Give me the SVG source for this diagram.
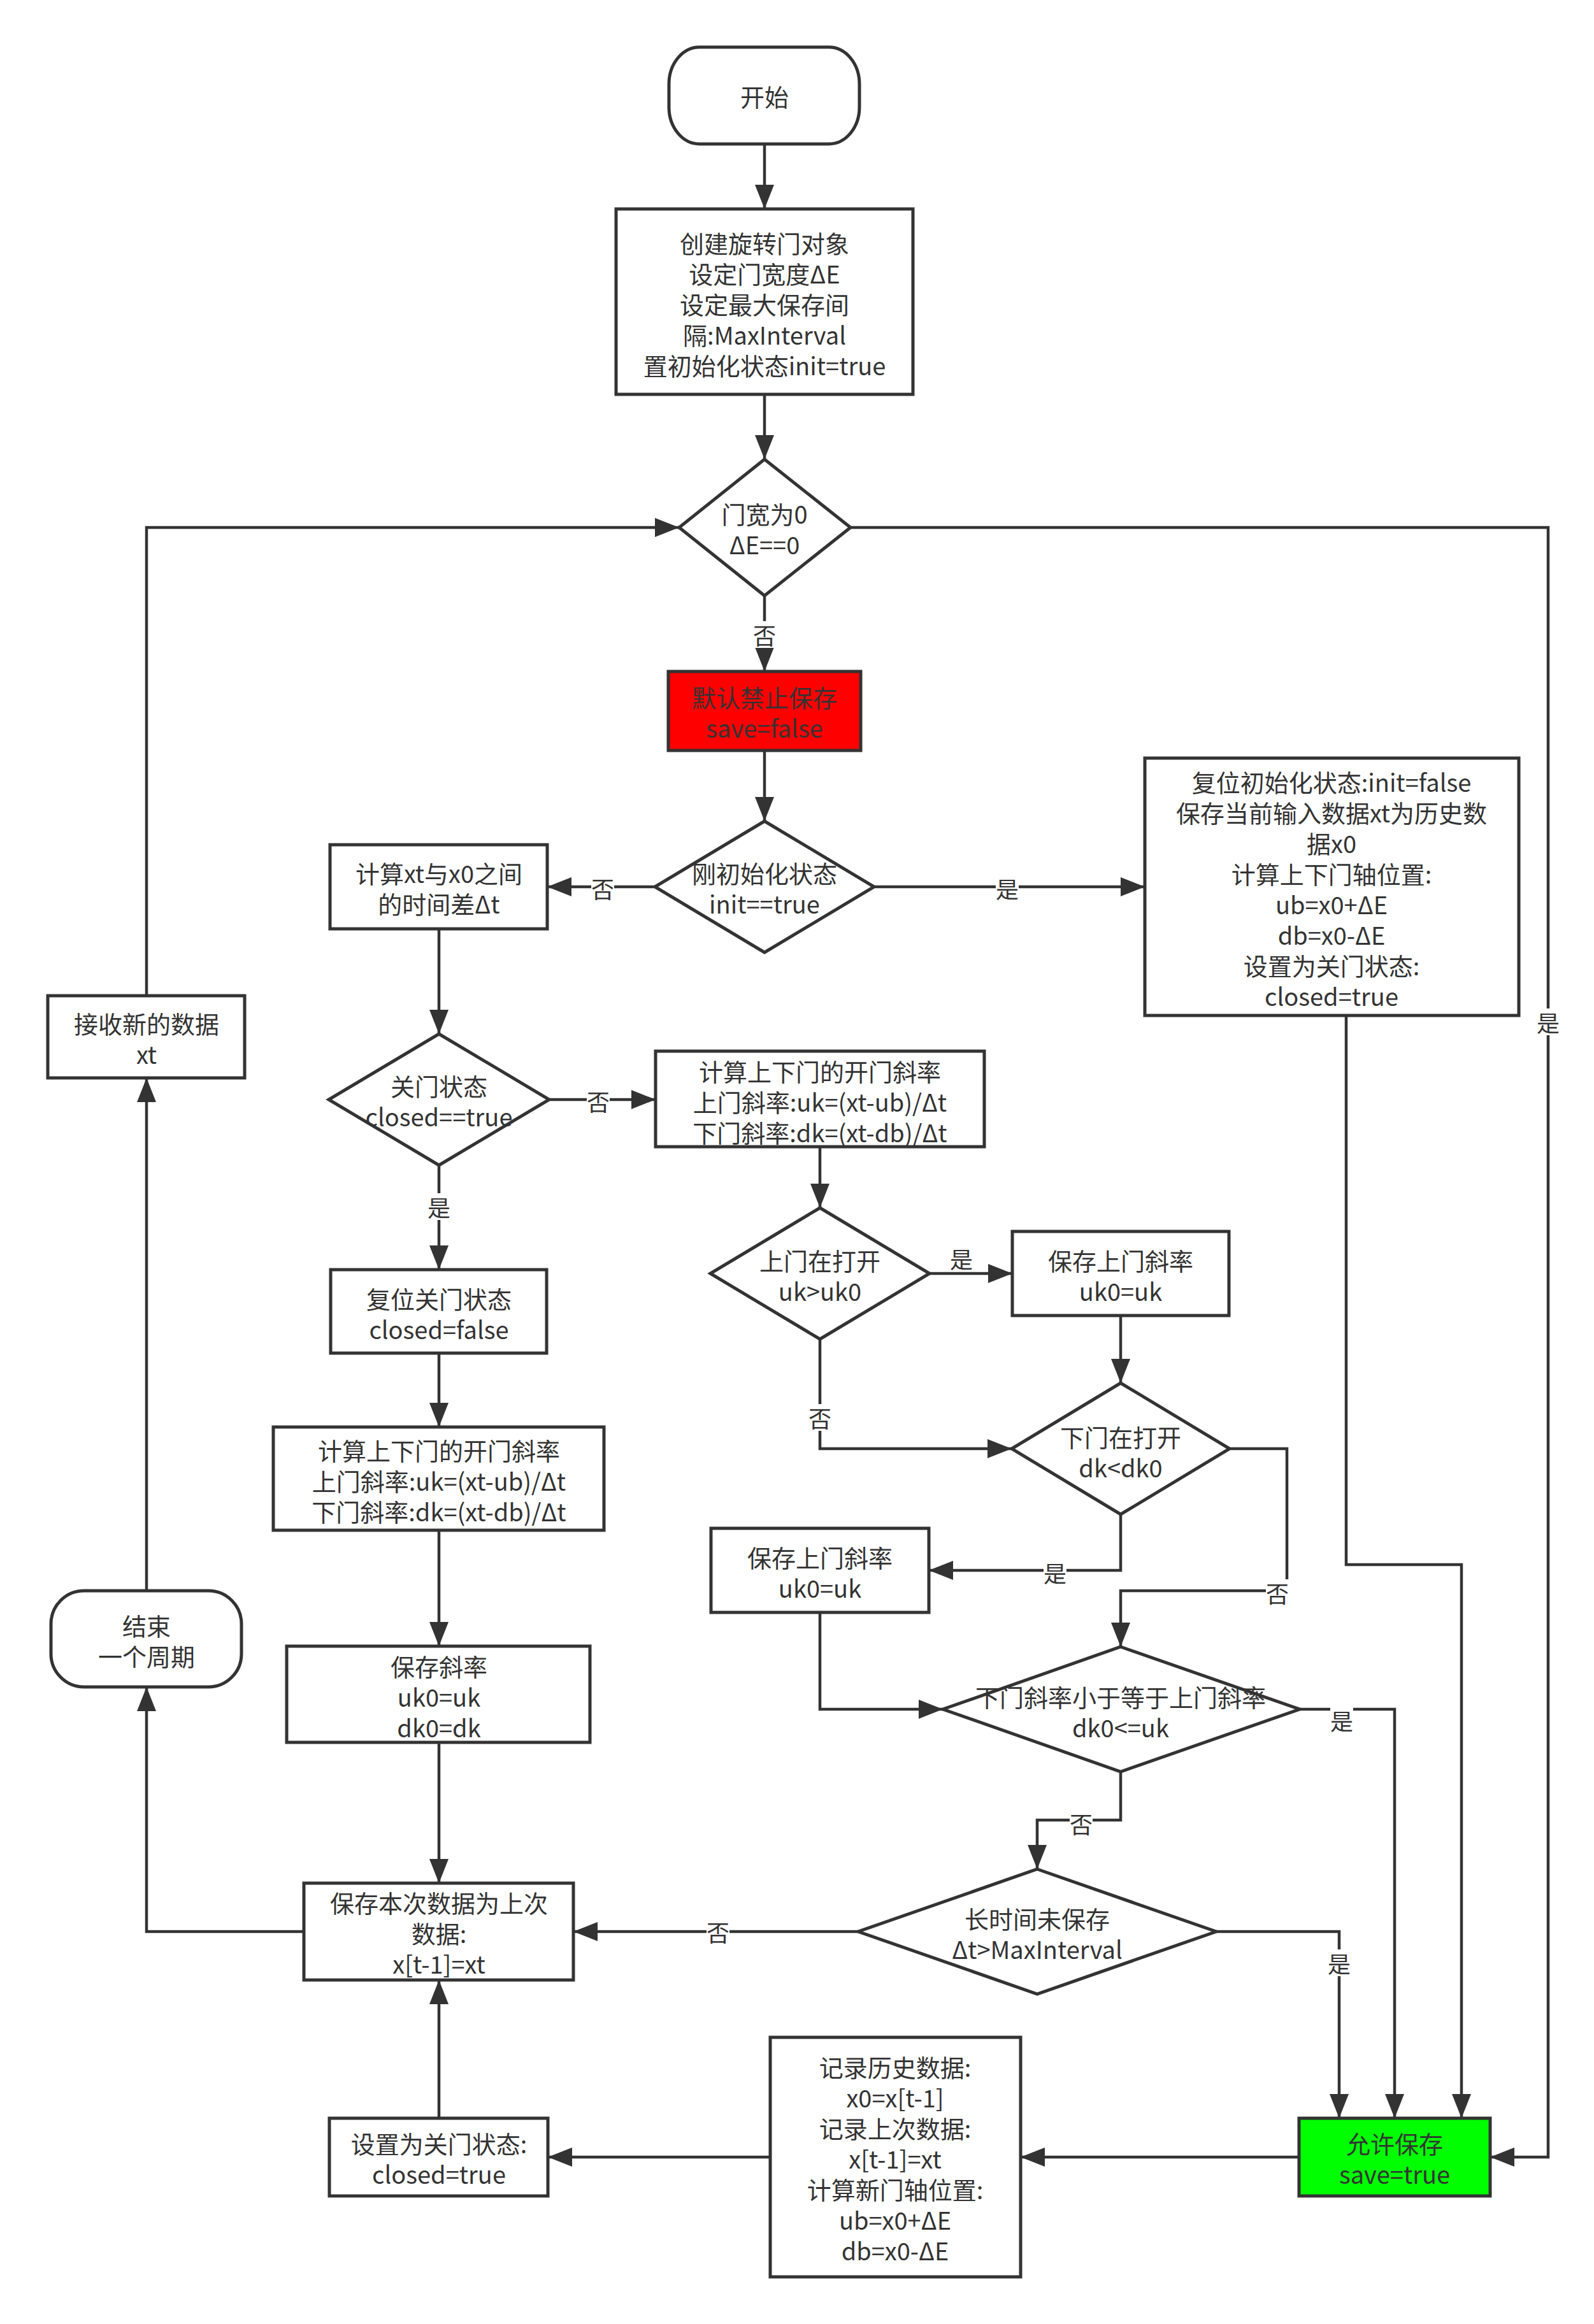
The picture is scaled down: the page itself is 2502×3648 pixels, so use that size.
<svg xmlns="http://www.w3.org/2000/svg" width="2502" height="3648" viewBox="0 0 2502 3648">
<defs>
<marker id="arr" markerUnits="userSpaceOnUse" markerWidth="38" markerHeight="30" refX="38" refY="15" orient="auto">
<path d="M0,0 L38,15 L0,30 z" fill="#333333"/>
</marker>
<style>
.n{fill:#ffffff;stroke:#333333;stroke-width:5}
.t{font-family:"Noto Sans CJK SC","Noto Sans",sans-serif;font-size:38px;fill:#333333;text-anchor:middle;dominant-baseline:central}
.c{fill:none;stroke:#333333;stroke-width:4.5}
.lb{fill:#ffffff;stroke:none}
.lt{font-family:"Noto Sans CJK SC","Noto Sans",sans-serif;font-size:36px;fill:#333333;text-anchor:middle;dominant-baseline:central}
</style>
</defs>
<rect width="2502" height="3648" fill="#ffffff"/>

<g id="connectors">
<path class="c" marker-end="url(#arr)" d="M1200,226 L1200,328"/>
<path class="c" marker-end="url(#arr)" d="M1200,619 L1200,721"/>
<path class="c" marker-end="url(#arr)" d="M1200,935 L1200,1054"/>
<path class="c" marker-end="url(#arr)" d="M1200,1178 L1200,1289"/>
<path class="c" marker-end="url(#arr)" d="M1028,1392 L859,1392"/>
<path class="c" marker-end="url(#arr)" d="M1372,1392 L1797,1392"/>
<path class="c" marker-end="url(#arr)" d="M1335,828 L2430,828 L2430,3386 L2339,3386"/>
<path class="c" marker-end="url(#arr)" d="M689,1458 L689,1623"/>
<path class="c" marker-end="url(#arr)" d="M862,1726 L1029,1726"/>
<path class="c" marker-end="url(#arr)" d="M689,1829 L689,1993"/>
<path class="c" marker-end="url(#arr)" d="M689,2124 L689,2240"/>
<path class="c" marker-end="url(#arr)" d="M689,2402 L689,2584"/>
<path class="c" marker-end="url(#arr)" d="M689,2735 L689,2956"/>
<path class="c" marker-end="url(#arr)" d="M689,3325 L689,3108"/>
<path class="c" marker-end="url(#arr)" d="M477,3032 L230,3032 L230,2648"/>
<path class="c" marker-end="url(#arr)" d="M230,2497 L230,1692"/>
<path class="c" marker-end="url(#arr)" d="M230,1563 L230,828 L1066,828"/>
<path class="c" marker-end="url(#arr)" d="M1287,1800 L1287,1896"/>
<path class="c" marker-end="url(#arr)" d="M1459,1999 L1589,1999"/>
<path class="c" marker-end="url(#arr)" d="M1287,2102 L1287,2274 L1588,2274"/>
<path class="c" marker-end="url(#arr)" d="M1759,2065 L1759,2171"/>
<path class="c" marker-end="url(#arr)" d="M1759,2377 L1759,2465 L1458,2465"/>
<path class="c" marker-end="url(#arr)" d="M1930,2274 L2020,2274 L2020,2497 L1759,2497 L1759,2585"/>
<path class="c" marker-end="url(#arr)" d="M1287,2531 L1287,2683 L1480,2683"/>
<path class="c" marker-end="url(#arr)" d="M2040,2683 L2189,2683 L2189,3325"/>
<path class="c" marker-end="url(#arr)" d="M1759,2781 L1759,2857 L1628,2857 L1628,2934"/>
<path class="c" marker-end="url(#arr)" d="M1347,3032 L900,3032"/>
<path class="c" marker-end="url(#arr)" d="M1909,3032 L2102,3032 L2102,3325"/>
<path class="c" marker-end="url(#arr)" d="M2113,1594 L2113,2456 L2294,2456 L2294,3325"/>
<path class="c" marker-end="url(#arr)" d="M2039,3386 L1602,3386"/>
<path class="c" marker-end="url(#arr)" d="M1209,3386 L860,3386"/>
<g id="labels">
<rect class="lb" x="1182" y="975" width="36" height="42"/><text class="lt" x="1200" y="996">否</text>
<rect class="lb" x="928" y="1373" width="36" height="42"/><text class="lt" x="946" y="1394">否</text>
<rect class="lb" x="1563" y="1373" width="36" height="42"/><text class="lt" x="1581" y="1394">是</text>
<rect class="lb" x="2412" y="1583" width="36" height="42"/><text class="lt" x="2430" y="1604">是</text>
<rect class="lb" x="921" y="1707" width="36" height="42"/><text class="lt" x="939" y="1728">否</text>
<rect class="lb" x="671" y="1873" width="36" height="42"/><text class="lt" x="689" y="1894">是</text>
<text class="lt" x="1509" y="1975">是</text>
<rect class="lb" x="1269" y="2204" width="36" height="42"/><text class="lt" x="1287" y="2225">否</text>
<rect class="lb" x="1638" y="2447" width="36" height="42"/><text class="lt" x="1656" y="2468">是</text>
<rect class="lb" x="1987" y="2479" width="36" height="42"/><text class="lt" x="2005" y="2500">否</text>
<rect class="lb" x="2088" y="2679" width="36" height="42"/><text class="lt" x="2106" y="2700">是</text>
<rect class="lb" x="1679" y="2841" width="36" height="42"/><text class="lt" x="1697" y="2862">否</text>
<rect class="lb" x="1109" y="3011" width="36" height="42"/><text class="lt" x="1127" y="3032">否</text>
<rect class="lb" x="2084" y="3060" width="36" height="42"/><text class="lt" x="2102" y="3081">是</text>
</g>
</g>

<g id="start">
<rect class="n" x="1050" y="74" width="299" height="152" rx="48" ry="58"/>
<text class="t" x="1200" y="150">开始</text>
</g>
<g id="init">
<rect class="n" x="967" y="328" width="466" height="291"/>
<text class="t" x="1200" y="380">创建旋转门对象</text>
<text class="t" x="1200" y="428">设定门宽度ΔE</text>
<text class="t" x="1200" y="476">设定最大保存间</text>
<text class="t" x="1200" y="524">隔:MaxInterval</text>
<text class="t" x="1200" y="572">置初始化状态init=true</text>
</g>
<g id="d_width">
<polygon class="n" points="1200,721 1335,828 1200,935 1066,828"/>
<text class="t" x="1200" y="805">门宽为0</text>
<text class="t" x="1200" y="853">ΔE==0</text>
</g>
<g id="forbid">
<rect class="n" x="1049" y="1054" width="302" height="124" style="fill:#ff0000"/>
<text class="t" x="1200" y="1093">默认禁止保存</text>
<text class="t" x="1200" y="1141">save=false</text>
</g>
<g id="d_init">
<polygon class="n" points="1200,1289 1372,1392 1200,1495 1028,1392"/>
<text class="t" x="1200" y="1369">刚初始化状态</text>
<text class="t" x="1200" y="1417">init==true</text>
</g>
<g id="reset_init">
<rect class="n" x="1797" y="1190" width="587" height="404"/>
<text class="t" x="2090" y="1226">复位初始化状态:init=false</text>
<text class="t" x="2090" y="1274">保存当前输入数据xt为历史数</text>
<text class="t" x="2090" y="1322">据x0</text>
<text class="t" x="2090" y="1370">计算上下门轴位置:</text>
<text class="t" x="2090" y="1418">ub=x0+ΔE</text>
<text class="t" x="2090" y="1466">db=x0-ΔE</text>
<text class="t" x="2090" y="1514">设置为关门状态:</text>
<text class="t" x="2090" y="1562">closed=true</text>
</g>
<g id="calc_dt">
<rect class="n" x="518" y="1326" width="341" height="132"/>
<text class="t" x="689" y="1369">计算xt与x0之间</text>
<text class="t" x="689" y="1417">的时间差Δt</text>
</g>
<g id="receive">
<rect class="n" x="75" y="1563" width="309" height="129"/>
<text class="t" x="230" y="1605">接收新的数据</text>
<text class="t" x="230" y="1653">xt</text>
</g>
<g id="d_closed">
<polygon class="n" points="689,1623 862,1726 689,1829 516,1726"/>
<text class="t" x="689" y="1703">关门状态</text>
<text class="t" x="689" y="1751">closed==true</text>
</g>
<g id="calc_k_right">
<rect class="n" x="1029" y="1650" width="516" height="150"/>
<text class="t" x="1287" y="1680">计算上下门的开门斜率</text>
<text class="t" x="1287" y="1728">上门斜率:uk=(xt-ub)/Δt</text>
<text class="t" x="1287" y="1776">下门斜率:dk=(xt-db)/Δt</text>
</g>
<g id="reset_closed">
<rect class="n" x="519" y="1993" width="339" height="131"/>
<text class="t" x="689" y="2037">复位关门状态</text>
<text class="t" x="689" y="2085">closed=false</text>
</g>
<g id="d_up">
<polygon class="n" points="1287,1896 1459,1999 1287,2102 1115,1999"/>
<text class="t" x="1287" y="1977">上门在打开</text>
<text class="t" x="1287" y="2025">uk&gt;uk0</text>
</g>
<g id="save_uk1">
<rect class="n" x="1589" y="1933" width="340" height="132"/>
<text class="t" x="1759" y="1977">保存上门斜率</text>
<text class="t" x="1759" y="2025">uk0=uk</text>
</g>
<g id="d_down">
<polygon class="n" points="1759,2171 1930,2274 1759,2377 1588,2274"/>
<text class="t" x="1759" y="2254">下门在打开</text>
<text class="t" x="1759" y="2302">dk&lt;dk0</text>
</g>
<g id="calc_k_left">
<rect class="n" x="429" y="2240" width="519" height="162"/>
<text class="t" x="689" y="2275">计算上下门的开门斜率</text>
<text class="t" x="689" y="2323">上门斜率:uk=(xt-ub)/Δt</text>
<text class="t" x="689" y="2371">下门斜率:dk=(xt-db)/Δt</text>
</g>
<g id="save_uk2">
<rect class="n" x="1116" y="2399" width="342" height="132"/>
<text class="t" x="1287" y="2443">保存上门斜率</text>
<text class="t" x="1287" y="2491">uk0=uk</text>
</g>
<g id="end_cycle">
<rect class="n" x="80" y="2497" width="299" height="151" rx="52" ry="52"/>
<text class="t" x="230" y="2550">结束</text>
<text class="t" x="230" y="2598">一个周期</text>
</g>
<g id="save_k">
<rect class="n" x="450" y="2584" width="476" height="151"/>
<text class="t" x="689" y="2614">保存斜率</text>
<text class="t" x="689" y="2662">uk0=uk</text>
<text class="t" x="689" y="2710">dk0=dk</text>
</g>
<g id="d_cmp">
<polygon class="n" points="1759,2585 2040,2683 1759,2781 1480,2683"/>
<text class="t" x="1759" y="2662">下门斜率小于等于上门斜率</text>
<text class="t" x="1759" y="2710">dk0&lt;=uk</text>
</g>
<g id="d_long">
<polygon class="n" points="1628,2934 1909,3032 1628,3130 1347,3032"/>
<text class="t" x="1628" y="3010">长时间未保存</text>
<text class="t" x="1628" y="3058">Δt&gt;MaxInterval</text>
</g>
<g id="save_last">
<rect class="n" x="477" y="2956" width="423" height="152"/>
<text class="t" x="689" y="2985">保存本次数据为上次</text>
<text class="t" x="689" y="3033">数据:</text>
<text class="t" x="689" y="3081">x[t-1]=xt</text>
</g>
<g id="set_closed">
<rect class="n" x="517" y="3325" width="343" height="122"/>
<text class="t" x="689" y="3363">设置为关门状态:</text>
<text class="t" x="689" y="3411">closed=true</text>
</g>
<g id="record">
<rect class="n" x="1209" y="3198" width="393" height="376"/>
<text class="t" x="1405" y="3243">记录历史数据:</text>
<text class="t" x="1405" y="3291">x0=x[t-1]</text>
<text class="t" x="1405" y="3339">记录上次数据:</text>
<text class="t" x="1405" y="3387">x[t-1]=xt</text>
<text class="t" x="1405" y="3435">计算新门轴位置:</text>
<text class="t" x="1405" y="3483">ub=x0+ΔE</text>
<text class="t" x="1405" y="3531">db=x0-ΔE</text>
</g>
<g id="allow">
<rect class="n" x="2039" y="3325" width="300" height="122" style="fill:#00ff00"/>
<text class="t" x="2189" y="3363">允许保存</text>
<text class="t" x="2189" y="3411">save=true</text>
</g>
</svg>
